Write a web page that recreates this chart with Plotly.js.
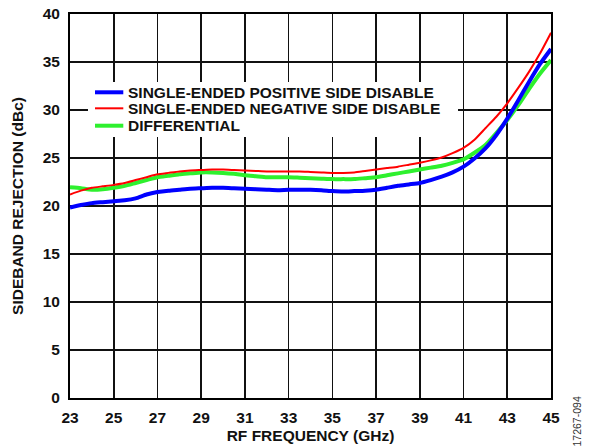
<!DOCTYPE html>
<html>
<head>
<meta charset="utf-8">
<script src="https://cdn.plot.ly/plotly-3.0.1.min.js"></script>
<style>html,body{margin:0;padding:0;background:#fff;}#chart{width:591px;height:446px;}</style>
</head>
<body>
<div id="chart"></div>
<script>
const freqGHz = [23,23.5,24,24.5,25,25.5,26,26.5,27,27.5,28,28.5,29,29.5,30,30.5,31,31.5,32,32.5,33,33.5,34,34.5,35,35.5,36,36.5,37,37.5,38,38.5,39,39.5,40,40.5,41,41.5,42,42.5,43,43.5,44,44.5,45];
const posDisable = [19.85,20.1,20.3,20.4,20.5,20.6,20.8,21.2,21.45,21.6,21.7,21.8,21.85,21.9,21.9,21.85,21.8,21.75,21.7,21.65,21.7,21.7,21.7,21.65,21.55,21.5,21.55,21.6,21.7,21.9,22.1,22.25,22.4,22.7,23.05,23.5,24.1,24.95,26.0,27.4,29.1,31.0,32.95,34.8,36.35];
const negDisable = [21.2,21.6,21.9,22.05,22.2,22.4,22.7,23.0,23.3,23.45,23.6,23.7,23.75,23.8,23.8,23.75,23.7,23.65,23.6,23.6,23.6,23.6,23.55,23.5,23.45,23.45,23.5,23.65,23.8,23.95,24.1,24.3,24.5,24.75,25.05,25.5,26.05,26.9,28.1,29.3,30.7,32.3,34.0,35.9,38.05];
const differential = [21.95,21.85,21.7,21.75,21.9,22.1,22.4,22.7,23.0,23.15,23.3,23.4,23.5,23.5,23.45,23.35,23.2,23.1,23.0,23.0,23.0,22.95,22.9,22.85,22.8,22.8,22.8,22.9,23.0,23.2,23.4,23.6,23.8,24.0,24.2,24.5,24.86,25.55,26.35,27.6,28.95,30.5,32.2,33.8,35.2];
const seriesNames = ['SINGLE-ENDED POSITIVE SIDE DISABLE','SINGLE-ENDED NEGATIVE SIDE DISABLE','DIFFERENTIAL'];
const seriesColors = ['#0000ff','#ff0000','#2ef02e'];
const seriesWidths = [4, 2, 4];
const xTicks = [23,25,27,29,31,33,35,37,39,41,43,45];
const yTicks = [0,5,10,15,20,25,30,35,40];

const FONT = 'Liberation Sans, Arial, sans-serif';
const TXT = '#111';
const FS = 15.5;

const seriesValues = [posDisable, negDisable, differential];
const drawOrder = [2, 0, 1];
const traces = drawOrder.map(i => ({
  x: freqGHz, y: seriesValues[i], name: seriesNames[i], mode: 'lines', showlegend: false,
  line: {color: seriesColors[i], width: seriesWidths[i], shape: 'spline', smoothing: 0.5}
}));

// Legend (drawn in paper coordinates to match the original compact spacing)
const legBox = {x0: 0.0374, x1: 0.8067, y0: 0.6797, y1: 0.8229};
const legRows = [0.7961, 0.7544, 0.7091];
const legLineX = [0.0520, 0.1108];
const legTextX = 0.1199;

const shapes = [{
  type: 'rect', xref: 'paper', yref: 'paper', layer: 'above',
  x0: legBox.x0, x1: legBox.x1, y0: legBox.y0, y1: legBox.y1,
  fillcolor: '#fff', line: {width: 0}
}];
const annotations = [];
seriesNames.forEach((nm, i) => {
  shapes.push({type: 'line', xref: 'paper', yref: 'paper', layer: 'above',
    x0: legLineX[0], x1: legLineX[1], y0: legRows[i], y1: legRows[i],
    line: {color: seriesColors[i], width: seriesWidths[i]}});
  annotations.push({text: '<b>' + nm + '</b>', xref: 'paper', yref: 'paper',
    x: legTextX, y: legRows[i], xanchor: 'left', yanchor: 'middle', showarrow: false,
    xshift: -2, font: {family: FONT, size: FS, color: TXT}});
});
annotations.push({
  text: '17267-094', xref: 'paper', yref: 'paper', x: 1.055, y: -0.06,
  xanchor: 'center', yanchor: 'middle', textangle: -90, showarrow: false,
  font: {family: FONT, size: 10.5, color: '#333'}
});

const layout = {
  width: 591, height: 446,
  margin: {l: 70, r: 40, t: 14, b: 48},
  paper_bgcolor: '#fff', plot_bgcolor: '#fff',
  font: {family: FONT, size: FS, color: TXT},
  showlegend: false,
  xaxis: {
    range: [23, 45], tickvals: xTicks, ticktext: xTicks.map(v => '<b>' + v + '</b>'),
    showgrid: true, gridcolor: '#111', gridwidth: 1.6,
    showline: true, linecolor: '#000', linewidth: 2, mirror: true,
    ticks: '', zeroline: false, ticklabelstandoff: 4,
    tickfont: {family: FONT, size: FS, color: TXT},
    title: {text: '<b>RF FREQUENCY (GHz)</b>', standoff: 6,
            font: {family: FONT, size: FS, color: TXT}}
  },
  yaxis: {
    range: [0, 40], tickvals: yTicks, ticktext: yTicks.map(v => '<b>' + v + '</b>'),
    showgrid: true, gridcolor: '#111', gridwidth: 1.6,
    showline: true, linecolor: '#000', linewidth: 2, mirror: true,
    ticks: '', zeroline: false, ticklabelstandoff: 5,
    tickfont: {family: FONT, size: FS, color: TXT},
    title: {text: '<b>SIDEBAND REJECTION (dBc)</b>', standoff: 15,
            font: {family: FONT, size: FS, color: TXT}}
  },
  shapes: shapes,
  annotations: annotations
};

Plotly.newPlot('chart', traces, layout, {displayModeBar: false, staticPlot: true});
</script>
</body>
</html>
